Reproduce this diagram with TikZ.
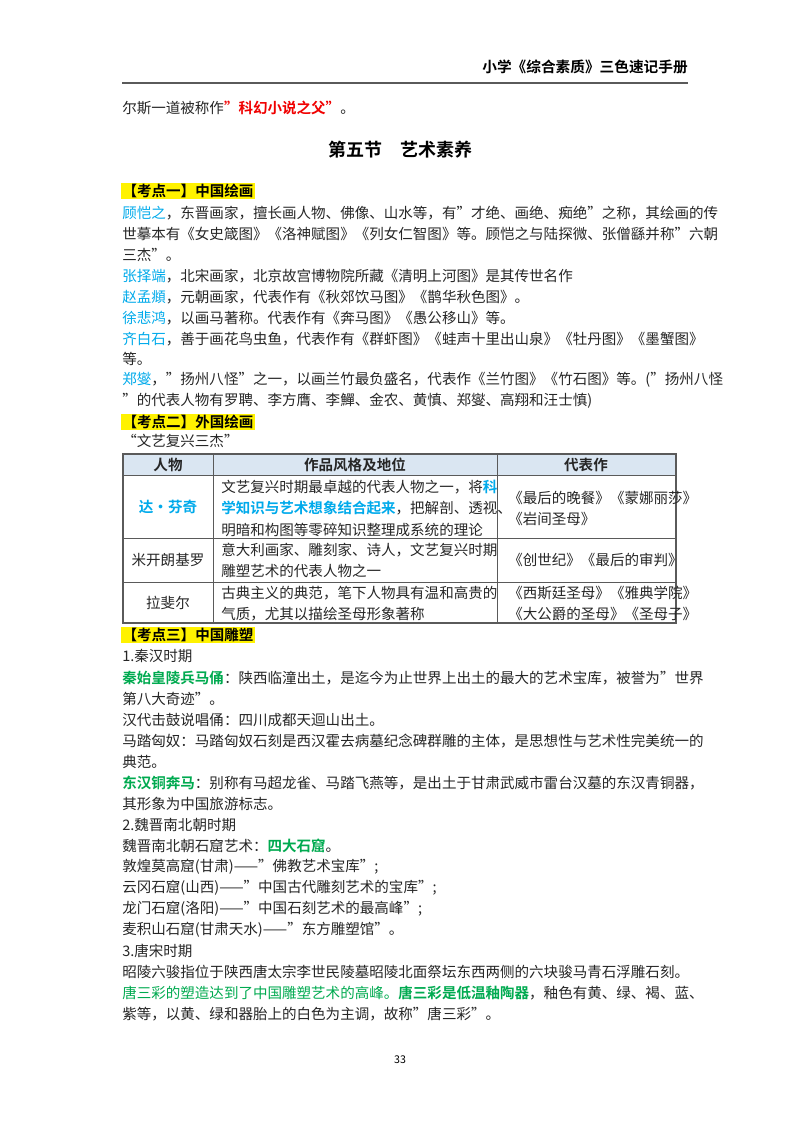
\documentclass[tikz,border=0pt]{standalone}
\usepackage{fontspec}
\setmainfont{Noto Sans CJK SC}[BoldFont={Noto Sans CJK SC Bold}]
\XeTeXlinebreaklocale "zh"
\XeTeXlinebreakskip=0pt plus 3pt
\definecolor{nblue}{RGB}{0,170,235}
\definecolor{ngreen}{RGB}{0,170,80}
\definecolor{nred}{RGB}{240,0,0}
\definecolor{thead}{RGB}{218,230,242}
\definecolor{tline}{RGB}{90,90,90}
\newcommand{\fl}[1]{\makebox[415.5pt][s]{#1}}
\newcommand{\bl}[1]{\textcolor{nblue}{#1}}
\newcommand{\gr}[1]{\textcolor{ngreen}{#1}}
\begin{document}
\begin{tikzpicture}[x=0.75pt,y=-0.75pt,
  txt/.style={anchor=west,inner sep=0pt,font=\fontsize{10.9}{13}\selectfont,text=black!85},
  kd/.style={anchor=west,inner sep=1pt,fill=yellow,font=\fontsize{10.9}{13}\selectfont\bfseries},
  tc/.style={anchor=west,inner sep=0pt,font=\fontsize{10.9}{13}\selectfont,text=black!85}]
\useasboundingbox (0,0) rectangle (800,1132);
\fill[white] (0,0) rectangle (800,1132);
\node[anchor=east,inner sep=0pt,font=\fontsize{11}{13}\selectfont\bfseries] (hdr) at (688,67) {小学《综合素质》三色速记手册};
\draw[tline,line width=0.8pt] (122,83) -- (688,83);
\node[txt] (l0) at (122,108) {尔斯一道被称作\textcolor{nred}{\bfseries"科幻小说之父"}。};
\node[anchor=center,inner sep=0pt,font=\fontsize{13.5}{15}\selectfont\bfseries] (title) at (400,150) {第五节\hspace{1em}艺术素养};
\node[kd] (k1) at (121,191) {【考点一】中国绘画};
\node[txt] (a1) at (122,213) {\fl{\bl{顾恺之}，东晋画家，擅长画人物、佛像、山水等，有"才绝、画绝、痴绝"之称，其绘画的传}};
\node[txt] (a2) at (122,234) {\fl{世摹本有《女史箴图》《洛神赋图》《列女仁智图》等。顾恺之与陆探微、张僧繇并称"六朝}};
\node[txt] (a3) at (122,255) {三杰"。};
\node[txt] (a4) at (122,276) {\bl{张择端}，北宋画家，北京故宫博物院所藏《清明上河图》是其传世名作};
\node[txt] (a5) at (122,297) {\bl{赵孟頫}，元朝画家，代表作有《秋郊饮马图》《鹊华秋色图》。};
\node[txt] (a6) at (122,318) {\bl{徐悲鸿}，以画马著称。代表作有《奔马图》《愚公移山》等。};
\node[txt] (a7) at (122,339) {\fl{\bl{齐白石}，善于画花鸟虫鱼，代表作有《群虾图》《蛙声十里出山泉》《牡丹图》《墨蟹图》}};
\node[txt] (a8) at (122,359) {等。};
\node[txt] (a9) at (122,380) {\fl{\bl{郑燮}，"扬州八怪"之一，以画兰竹最负盛名，代表作《兰竹图》《竹石图》等。("扬州八怪}};
\node[txt] (a10) at (122,401) {"的代表人物有罗聘、李方膺、李鱓、金农、黄慎、郑燮、高翔和汪士慎)};
\node[kd] (k2) at (121,422) {【考点二】外国绘画};
\node[txt] (q) at (122,441) {“文艺复兴三杰”};
% table
\fill[thead] (123,454) rectangle (676,475);
\draw[tline,line width=0.8pt] (123,454) rectangle (676,623);
\draw[tline,line width=0.6pt] (123,475) -- (676,475) (123,538) -- (676,538) (123,582) -- (676,582)
  (213,454) -- (213,623) (497,454) -- (497,623);
\node[tc,anchor=center,font=\fontsize{10.9}{13}\selectfont\bfseries] (h1) at (168,465) {人物};
\node[tc,anchor=center,font=\fontsize{10.9}{13}\selectfont\bfseries] (h2) at (355,465) {作品风格及地位};
\node[tc,anchor=center,font=\fontsize{10.9}{13}\selectfont\bfseries] (h3) at (586,465) {代表作};
\node[tc,anchor=center,text=nblue,font=\fontsize{10.9}{13}\selectfont\bfseries] (p1) at (168,507) {达·芬奇};
\node[tc] (r11) at (221,487) {文艺复兴时期最卓越的代表人物之一，将\textcolor{nblue}{\bfseries 科}};
\node[tc] (r12) at (221,508) {\textcolor{nblue}{\bfseries 学知识与艺术想象结合起来}，把解剖、透视、};
\node[tc] (r13) at (221,530) {明暗和构图等零碎知识整理成系统的理论};
\node[tc] (w11) at (508,498) {《最后的晚餐》《蒙娜丽莎》};
\node[tc] (w12) at (508,519) {《岩间圣母》};
\node[tc,anchor=center] (p2) at (168,560) {米开朗基罗};
\node[tc] (r21) at (221,550) {意大利画家、雕刻家、诗人，文艺复兴时期};
\node[tc] (r22) at (221,571) {雕塑艺术的代表人物之一};
\node[tc] (w21) at (508,560) {《创世纪》《最后的审判》};
\node[tc,anchor=center] (p3) at (168,603) {拉斐尔};
\node[tc] (r31) at (221,593) {古典主义的典范，笔下人物具有温和高贵的};
\node[tc] (r32) at (221,614) {气质，尤其以描绘圣母形象著称};
\node[tc] (w31) at (508,593) {《西斯廷圣母》《雅典学院》};
\node[tc] (w32) at (508,614) {《大公爵的圣母》《圣母子》};
\node[kd] (k3) at (121,635) {【考点三】中国雕塑};
\node[txt] (b1) at (122,656) {1.秦汉时期};
\node[txt] (b2) at (122,678) {\fl{\gr{\bfseries 秦始皇陵兵马俑}：陕西临潼出土，是迄今为止世界上出土的最大的艺术宝库，被誉为"世界}};
\node[txt] (b3) at (122,699) {第八大奇迹"。};
\node[txt] (b4) at (122,720) {汉代击鼓说唱俑：四川成都天迴山出土。};
\node[txt] (b5) at (122,741) {\fl{马踏匈奴：马踏匈奴石刻是西汉霍去病墓纪念碑群雕的主体，是思想性与艺术性完美统一的}};
\node[txt] (b6) at (122,762) {典范。};
\node[txt] (b7) at (122,783) {\fl{\gr{\bfseries 东汉铜奔马}：别称有马超龙雀、马踏飞燕等，是出土于甘肃武威市雷台汉墓的东汉青铜器，}};
\node[txt] (b8) at (122,804) {其形象为中国旅游标志。};
\node[txt] (b9) at (122,825) {2.魏晋南北朝时期};
\node[txt] (b10) at (122,846) {魏晋南北朝石窟艺术：\gr{\bfseries 四大石窟}。};
\node[txt] (b11) at (122,867) {敦煌莫高窟(甘肃)——"佛教艺术宝库";};
\node[txt] (b12) at (122,888) {云冈石窟(山西)——"中国古代雕刻艺术的宝库";};
\node[txt] (b13) at (122,909) {龙门石窟(洛阳)——"中国石刻艺术的最高峰";};
\node[txt] (b14) at (122,930) {麦积山石窟(甘肃天水)——"东方雕塑馆"。};
\node[txt] (b15) at (122,951) {3.唐宋时期};
\node[txt] (b16) at (122,972) {昭陵六骏指位于陕西唐太宗李世民陵墓昭陵北面祭坛东西两侧的六块骏马青石浮雕石刻。};
\node[txt] (b17) at (122,993) {\fl{\gr{唐三彩的塑造达到了中国雕塑艺术的高峰。\bfseries 唐三彩是低温釉陶器}，釉色有黄、绿、褐、蓝、}};
\node[txt] (b18) at (122,1014) {紫等，以黄、绿和器胎上的白色为主调，故称"唐三彩"。};
\node[anchor=center,inner sep=0pt,font=\fontsize{8}{10}\selectfont] (pg) at (400,1060) {33};
\end{tikzpicture}
\end{document}
